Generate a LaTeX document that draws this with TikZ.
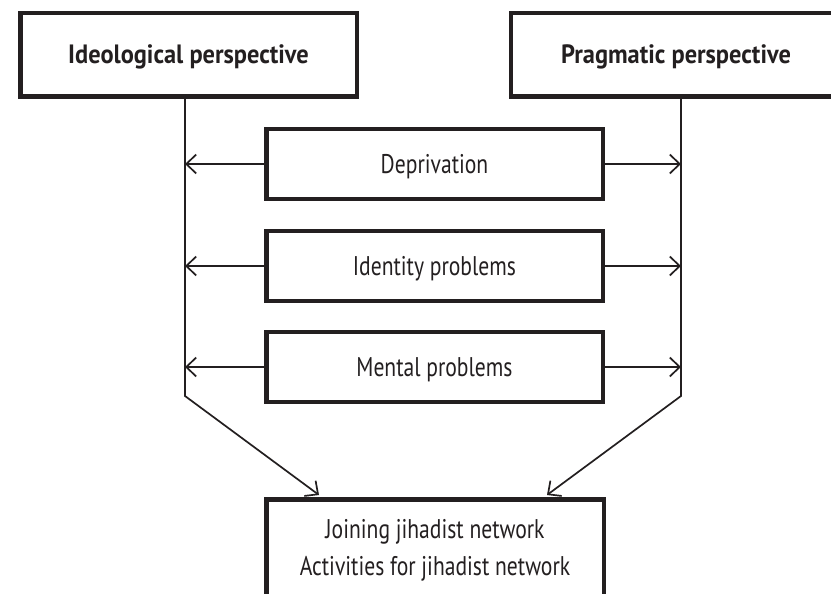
\documentclass[tikz,border=0pt]{standalone}
\usepackage{fontspec}
\setmainfont{PT Sans}[FakeStretch=0.8, BoldFeatures={FakeStretch=0.92}]
\usetikzlibrary{arrows.meta}
\definecolor{ink}{HTML}{231F20}
\tikzset{
  box/.style={draw=ink, line width=4.5pt, fill=white, inner sep=0pt,
    text height=18pt, text depth=0pt, text=ink},
  topbox/.style={box, minimum width=336.5pt, minimum height=83.5pt, font=\bfseries\fontsize{26.5}{30}\selectfont},
  midbox/.style={box, minimum width=336.5pt, minimum height=70pt, font=\fontsize{27}{30}\selectfont},
  txt/.style={inner sep=0pt, text=ink, font=\fontsize{27}{30}\selectfont},
  conn/.style={draw=ink, line width=1.7pt},
  arr/.style={conn, -{Straight Barb[length=10pt,width=19pt]}}
}
\begin{document}
\begin{tikzpicture}[x=1pt,y=-1pt]
\clip (0,0) rectangle (831,594);
\fill[white] (0,0) rectangle (831,594);
% top boxes
\node[topbox] (ideo) at (188.5,55) {Ideological perspective};
\node[topbox, minimum width=330pt] (prag) at (676,55) {Pragmatic perspective};
% middle boxes
\node[midbox] (dep) at (434.5,164) {Deprivation};
\node[midbox] (iden) at (434.5,266) {Identity problems};
\node[midbox] (ment) at (434.5,367) {Mental problems};
% bottom box
\node[box, minimum width=337.5pt, minimum height=200pt, anchor=north] (net) at (435,497.25) {};
\node[txt, anchor=base] (net1) at (435,538) {Joining jihadist network};
\node[txt, anchor=base] (net2) at (435,575) {Activities for jihadist network};
% helper coordinates
\coordinate (L) at (185,0);
\coordinate (R) at (681,0);
\coordinate (Lbend) at (185,396);
\coordinate (Rbend) at (681,396);
\coordinate (Ltip) at (319,495);
\coordinate (Rtip) at (547,495);
% side lines
\draw[arr] (ideo.south -| L) -- (Lbend) -- (Ltip);
\draw[arr] (prag.south -| R) -- (Rbend) -- (Rtip);
% arrows from middle boxes
\draw[arr] (dep.west) -- (dep.west -| L);
\draw[arr] (dep.east) -- (dep.east -| R);
\draw[arr] (iden.west) -- (iden.west -| L);
\draw[arr] (iden.east) -- (iden.east -| R);
\draw[arr] (ment.west) -- (ment.west -| L);
\draw[arr] (ment.east) -- (ment.east -| R);
\end{tikzpicture}
\end{document}
